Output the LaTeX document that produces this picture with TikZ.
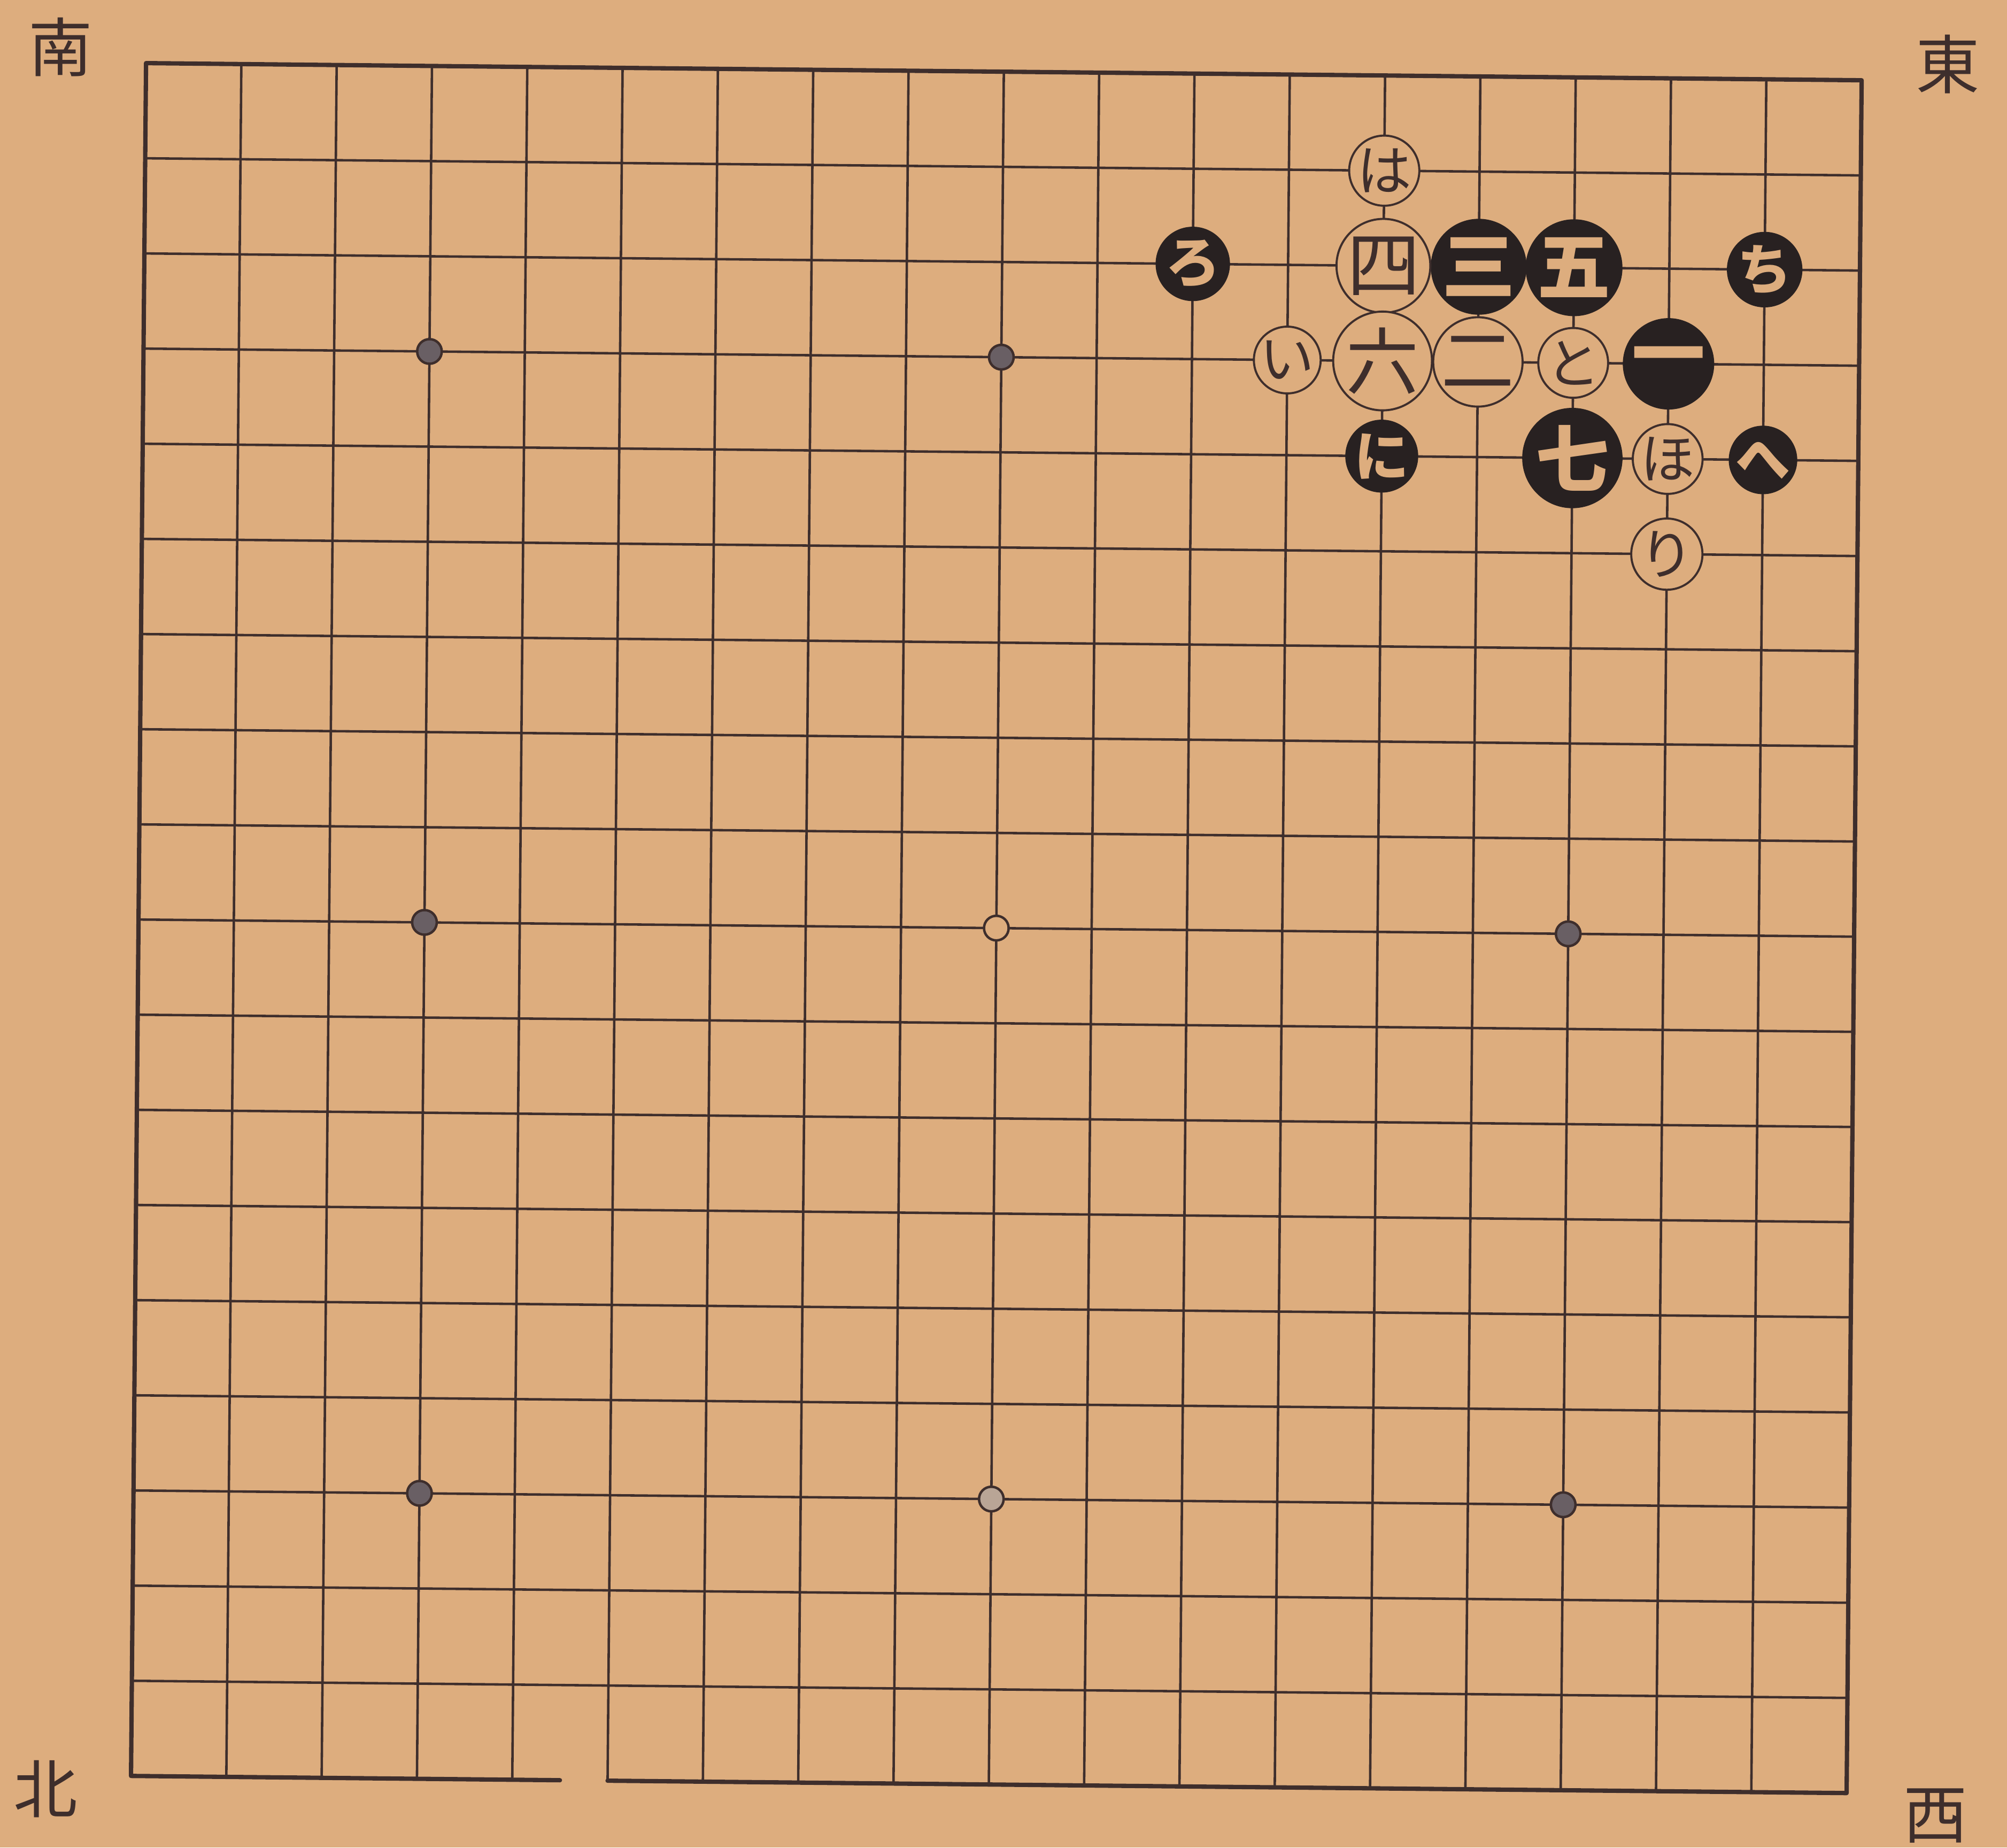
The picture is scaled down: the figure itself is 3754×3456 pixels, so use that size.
\documentclass[tikz,border=0pt]{standalone}
\usepackage{fontspec}
\newfontfamily\jp{Noto Sans CJK JP}
\definecolor{paper}{RGB}{221,173,126}
\definecolor{ink}{RGB}{62,46,44}
\definecolor{stoneblack}{RGB}{40,33,33}
\definecolor{starfill}{RGB}{105,95,100}
\definecolor{starlight}{RGB}{185,165,150}
\begin{document}
\begin{tikzpicture}[x=0.01cm,y=-0.01cm,
  gridline/.style={draw=ink,line width=1.3pt},
  edge/.style={draw=ink,line width=2.3pt,line cap=round,line join=round},
  wbig/.style={circle,draw=ink,line width=1.1pt,fill=paper,minimum size=1.67cm,inner sep=0pt,font=\jp\fontsize{39}{39}\selectfont,text=ink},
  bbig/.style={circle,draw=stoneblack,line width=1.1pt,fill=stoneblack,minimum size=1.67cm,inner sep=0pt,font=\jp\bfseries\fontsize{39}{39}\selectfont,text=paper},
  wsmall/.style={wbig,minimum size=1.24cm,font=\jp\fontsize{29}{29}\selectfont},
  bsmall/.style={bbig,minimum size=1.24cm,font=\jp\bfseries\fontsize{29}{29}\selectfont},
  hoshi/.style={circle,draw=ink,line width=1.3pt,fill=starfill,minimum size=0.46cm,inner sep=0pt},
  corner/.style={font=\jp\fontsize{34}{34}\selectfont,text=ink,inner sep=0pt}]
\fill[paper] (0,0) rectangle (3754,3456);
\useasboundingbox (0,0) rectangle (3754,3456);
% corner labels
\node[corner] (south) at (113,88) {南};
\node[corner] (east) at (3643,120) {東};
\node[corner] (north) at (85,3347) {北};
\node[corner] (west) at (3620,3397) {西};
% board
\begin{scope}[shift={(2.73cm,-1.18cm)},x={(1.7817cm,-0.0178cm)},y={(-0.0156cm,-1.779cm)}]
  \foreach \i in {1,...,17} {
    \draw[gridline] (\i,0) -- (\i,18);
    \draw[gridline] (0,\i) -- (18,\i);
  }
  \draw[edge] (4.5,18) -- (0,18) -- (0,0) -- (18,0) -- (18,18) -- (5,18);
  % star points
  \node[hoshi] (h1) at (3,3) {};
  \node[hoshi] (h2) at (9,3) {};
  \node[hoshi] (h3) at (3,9) {};
  \node[hoshi,fill=paper] (h4) at (9,9) {};
  \node[hoshi] (h5) at (15,9) {};
  \node[hoshi] (h6) at (3,15) {};
  \node[hoshi,fill=starlight] (h7) at (9,15) {};
  \node[hoshi] (h8) at (15,15) {};
  % numbered stones
  \node[bbig] (m1) at (16,3) {一};
  \node[wbig] (m2) at (14,3) {二};
  \node[bbig] (m3) at (14,2) {三};
  \node[wbig] (m4) at (13,2) {四};
  \node[bbig] (m5) at (15,2) {五};
  \node[wbig] (m6) at (13,3) {六};
  \node[bbig] (m7) at (15,4) {七};
  % lettered stones
  \node[wsmall] (ki) at (12,3) {い};
  \node[bsmall] (kro) at (11,2) {ろ};
  \node[wsmall] (kha) at (13,1) {は};
  \node[bsmall] (kni) at (13,4) {に};
  \node[wsmall] (kho) at (16,4) {ほ};
  \node[bsmall] (khe) at (17,4) {へ};
  \node[wsmall] (kto) at (15,3) {と};
  \node[bsmall] (kchi) at (17,2) {ち};
  \node[wsmall] (kri) at (16,5) {り};
\end{scope}
\end{tikzpicture}
\end{document}
